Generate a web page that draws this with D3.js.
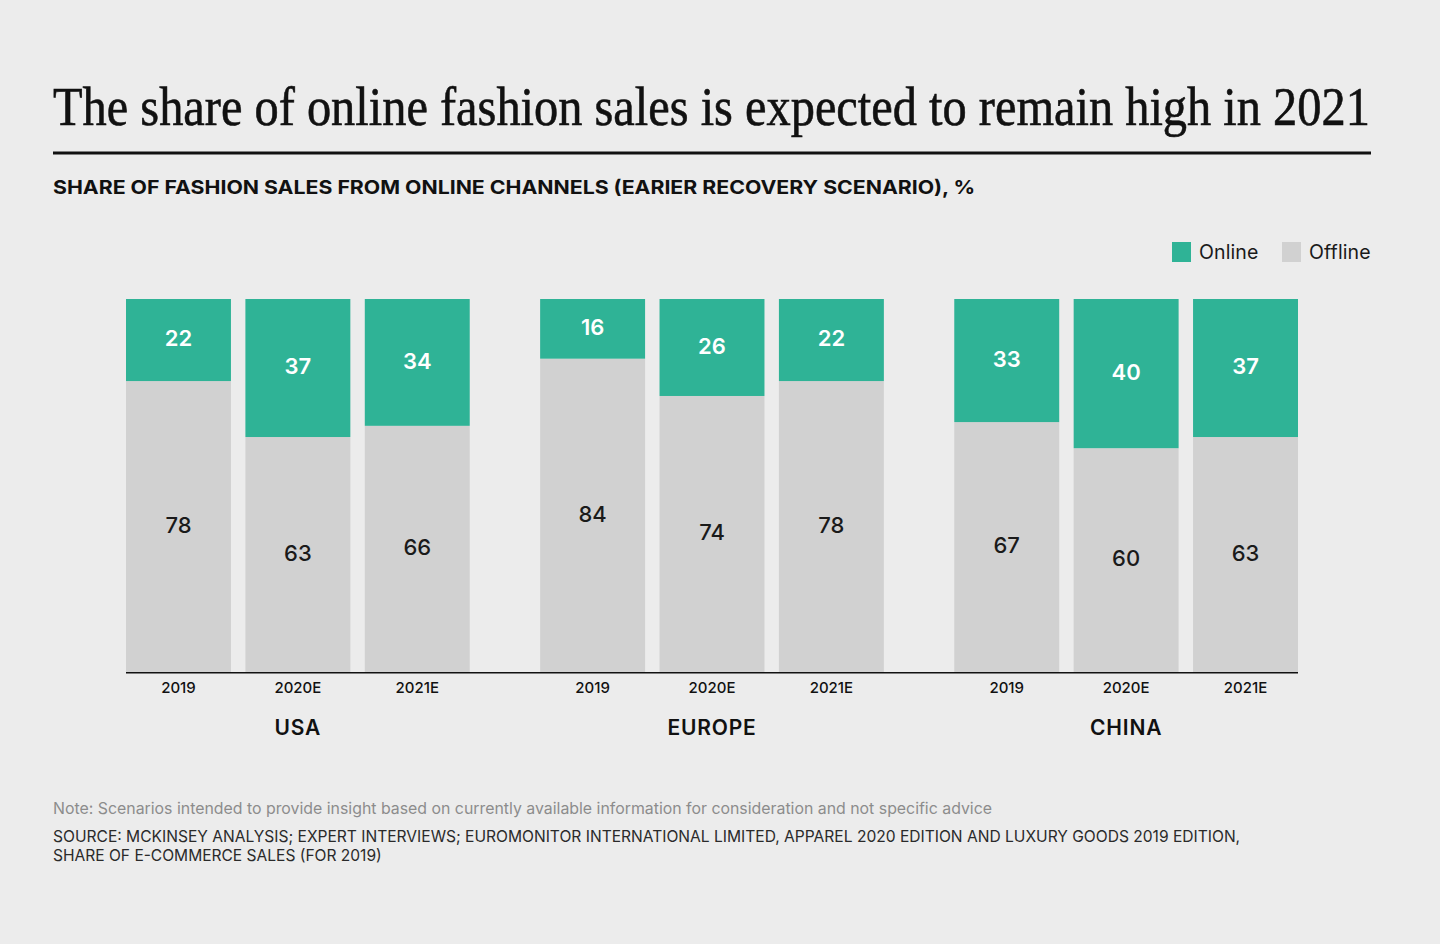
<!DOCTYPE html>
<html>
<head>
<meta charset="utf-8">
<script src="https://cdn.jsdelivr.net/npm/d3@7.9.0/dist/d3.min.js"></script>
<style>
  html, body { margin: 0; padding: 0; background: #ececec; }
  svg { display: block; }
</style>
</head>
<body>
<div id="chart"></div>
<script>
// data
const regions = ['USA', 'EUROPE', 'CHINA'];
const years = ['2019', '2020E', '2021E'];
const online = [
  [22, 37, 34],
  [16, 26, 22],
  [33, 40, 37]
];
const offline = [
  [78, 63, 66],
  [84, 74, 78],
  [67, 60, 63]
];
const seriesNames = ['Online', 'Offline'];
const colors = { Online: '#2fb396', Offline: '#d1d1d1' };

const title = 'The share of online fashion sales is expected to remain high in 2021';
const subtitle = 'SHARE OF FASHION SALES FROM ONLINE CHANNELS (EARIER RECOVERY SCENARIO), %';
const note = 'Note: Scenarios intended to provide insight based on currently available information for consideration and not specific advice';
const sourceLines = [
  'SOURCE: MCKINSEY ANALYSIS; EXPERT INTERVIEWS; EUROMONITOR INTERNATIONAL LIMITED, APPAREL 2020 EDITION AND LUXURY GOODS 2019 EDITION,',
  'SHARE OF E-COMMERCE SALES (FOR 2019)'
];

const width = 1440, height = 944;
const sans = 'Inter, "Noto Sans", sans-serif';

const svg = d3.select('#chart').append('svg')
  .attr('width', width)
  .attr('height', height);

svg.append('rect').attr('width', width).attr('height', height).attr('fill', '#ececec');

// squeeze a text horizontally to a given width
function fitWidth(sel, x, y, w) {
  const len = sel.node().getComputedTextLength();
  sel.attr('transform', `translate(${x},${y}) scale(${w / len},1)`);
}

// header
const titleText = svg.append('text')
  .attr('font-family', '"Liberation Serif", "DejaVu Serif", serif')
  .attr('font-size', 55)
  .attr('fill', '#111')
  .attr('stroke', '#111')
  .attr('stroke-width', 0.6)
  .text(title);
fitWidth(titleText, 53, 125, 1317);

svg.append('line')
  .attr('x1', 53).attr('x2', 1371)
  .attr('y1', 153).attr('y2', 153)
  .attr('stroke', '#111').attr('stroke-width', 3);

const subText = svg.append('text')
  .attr('font-family', sans)
  .attr('font-size', 19)
  .attr('font-weight', 700)
  .attr('fill', '#111')
  .text(subtitle);
fitWidth(subText, 53, 194, 923);

// scales
const x0 = d3.scaleBand().domain(regions).range([126, 1298]).paddingInner(0.17);
const x1 = d3.scaleBand().domain(years).range([0, x0.bandwidth()]).paddingInner(0.121);
const y = d3.scaleLinear().domain([0, 100]).range([672, 299]);

// bars
const rows = [];
regions.forEach((r, i) => {
  years.forEach((yr, j) => {
    rows.push({ region: r, year: yr, Online: online[i][j], Offline: offline[i][j] });
  });
});

const stack = d3.stack().keys(['Offline', 'Online']);
const stacked = stack(rows);

const layers = svg.append('g').selectAll('g')
  .data(stacked)
  .join('g')
  .attr('fill', d => colors[d.key]);

layers.selectAll('rect')
  .data(d => d)
  .join('rect')
  .attr('x', d => x0(d.data.region) + x1(d.data.year))
  .attr('y', d => y(d[1]))
  .attr('width', x1.bandwidth())
  .attr('height', d => y(d[0]) - y(d[1]));

layers.selectAll('text')
  .data(d => d.map(v => Object.assign({ key: d.key }, v)))
  .join('text')
  .attr('x', d => x0(d.data.region) + x1(d.data.year) + x1.bandwidth() / 2)
  .attr('y', d => (y(d[0]) + y(d[1])) / 2)
  .attr('dy', '0.28em')
  .attr('text-anchor', 'middle')
  .attr('font-family', sans)
  .attr('font-size', 22)
  .attr('font-weight', d => d.key === 'Online' ? 600 : 500)
  .attr('fill', d => d.key === 'Online' ? '#fff' : '#1a1a1a')
  .text(d => d.data[d.key]);

// axis baseline
svg.append('line')
  .attr('x1', x0.range()[0]).attr('x2', x0.range()[1])
  .attr('y1', y(0) + 0.75).attr('y2', y(0) + 0.75)
  .attr('stroke', '#111').attr('stroke-width', 1.5);

// year ticks
regions.forEach(r => {
  const axis = d3.axisBottom(x1).tickSize(0).tickPadding(0);
  const g = svg.append('g')
    .attr('transform', `translate(${x0(r)}, ${y(0)})`)
    .call(axis);
  g.select('.domain').remove();
  g.selectAll('text')
    .attr('y', 0)
    .attr('dy', '21px')
    .attr('font-family', sans)
    .attr('font-size', 15)
    .attr('font-weight', 500)
    .attr('fill', '#111');
});

// region labels
svg.append('g').selectAll('text')
  .data(regions)
  .join('text')
  .attr('x', d => x0(d) + x0.bandwidth() / 2)
  .attr('y', 735)
  .attr('text-anchor', 'middle')
  .attr('font-family', sans)
  .attr('font-size', 21)
  .attr('font-weight', 600)
  .attr('letter-spacing', 0.8)
  .attr('fill', '#111')
  .text(d => d);

// legend
const legendX = [1172, 1282];
const legend = svg.append('g').selectAll('g')
  .data(seriesNames)
  .join('g')
  .attr('transform', (d, i) => `translate(${legendX[i]}, 242)`);
legend.append('rect')
  .attr('width', 19).attr('height', 20)
  .attr('fill', d => colors[d]);
legend.append('text')
  .attr('x', 27).attr('y', 17)
  .attr('font-family', sans)
  .attr('font-size', 19.5)
  .attr('letter-spacing', 0.1)
  .attr('fill', '#1a1a1a')
  .text(d => d);

// footer
const noteText = svg.append('text')
  .attr('font-family', sans)
  .attr('font-size', 16)
  .attr('fill', '#8c8c8c')
  .text(note);
fitWidth(noteText, 53, 814, 940);

const sourceWidths = [1188, 329];
svg.append('g').selectAll('text')
  .data(sourceLines)
  .join('text')
  .attr('font-family', sans)
  .attr('font-size', 16)
  .attr('fill', '#2a2a2a')
  .text(d => d)
  .each(function (d, i) {
    fitWidth(d3.select(this), 53, 842 + i * 19, sourceWidths[i]);
  });
</script>
</body>
</html>
